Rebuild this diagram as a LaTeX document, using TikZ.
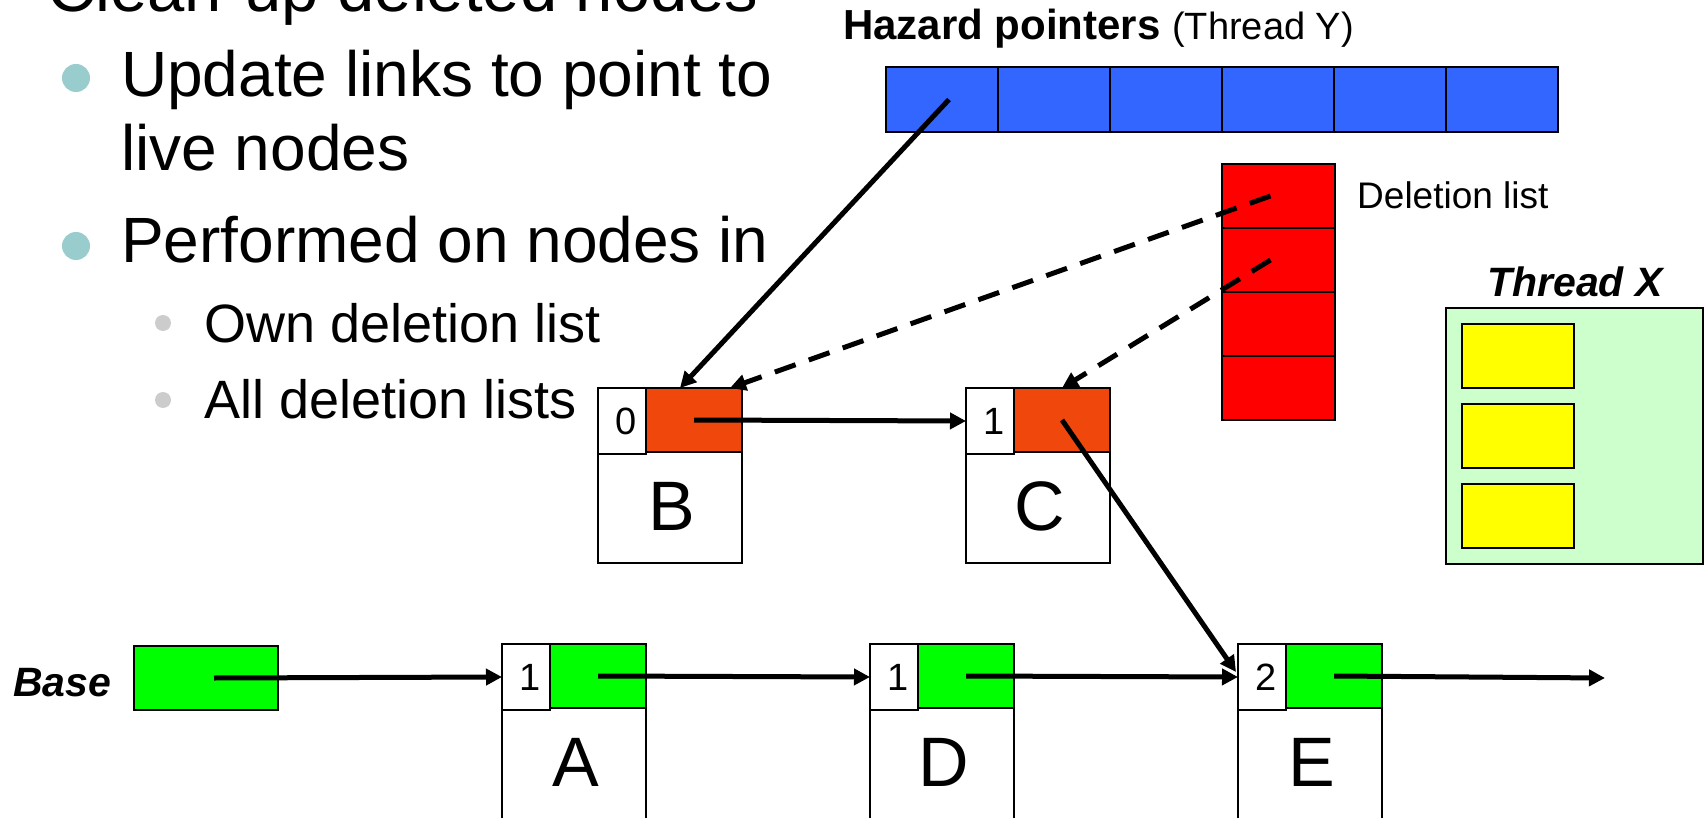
\documentclass[tikz,border=0pt]{standalone}
\usepackage{fontspec}
\setmainfont{Liberation Sans}
\usetikzlibrary{arrows.meta,calc}
\definecolor{tealdot}{RGB}{153,204,204}
\definecolor{greydot}{RGB}{204,204,204}
\definecolor{orng}{RGB}{240,72,12}
\definecolor{hzblue}{RGB}{51,102,255}
\definecolor{lgreen}{RGB}{204,255,204}
\definecolor{brgreen}{RGB}{0,255,0}
\definecolor{ylw}{RGB}{255,255,0}
\definecolor{dred}{RGB}{255,0,0}
\begin{document}
\begin{tikzpicture}[x=1pt,y=-1pt,
  cell/.style={draw=black, line width=2.2pt, inner sep=0pt, outer sep=0pt, anchor=north west},
  body/.style={cell, fill=white, minimum width=144pt, minimum height=175pt},
  cnt/.style={cell, fill=white, minimum width=48pt, minimum height=66pt, font=\fontsize{38}{44}\selectfont},
  ptr/.style={cell, minimum width=96pt, minimum height=64pt},
  letter/.style={anchor=base, inner sep=0pt, font=\fontsize{70}{84}\selectfont},
  txt/.style={anchor=base west, inner sep=0pt},
  link/.style={line width=5pt, -{Triangle[length=16pt,width=16pt]}},
  dlink/.style={link, dash pattern=on 22pt off 14pt},
  hcell/.style={cell, fill=hzblue, minimum width=112pt, minimum height=65pt},
  dcell/.style={cell, fill=dred, minimum width=113pt, minimum height=64pt},
  ycell/.style={cell, fill=ylw, minimum width=112pt, minimum height=64pt},
  bigdot/.style={circle, fill=tealdot, minimum size=28pt, inner sep=0pt},
  smalldot/.style={circle, fill=greydot, minimum size=16pt, inner sep=0pt}
]
\useasboundingbox (0,0) rectangle (1705,818);

% title and bullets
\node[txt, font=\fontsize{67}{80}\selectfont] (title) at (47,12) {Clean-up deleted nodes};
\node[bigdot] (d1) at (76,78) {};
\node[txt, font=\fontsize{64}{75}\selectfont] (t1a) at (121,97) {Update links to point to};
\node[txt, font=\fontsize{64}{75}\selectfont] (t1b) at (121,171) {live nodes};
\node[bigdot] (d2) at (76,246) {};
\node[txt, font=\fontsize{64}{75}\selectfont] (t2) at (121,263) {Performed on nodes in};
\node[smalldot] (s1) at (163,323) {};
\node[txt, font=\fontsize{54}{64}\selectfont] (t3) at (204,342) {Own deletion list};
\node[smalldot] (s2) at (163,400) {};
\node[txt, font=\fontsize{54}{64}\selectfont] (t4) at (204,418) {All deletion lists};

% hazard pointers
\node[txt, font=\fontsize{42}{50}\selectfont] (hzlab) at (843,40) {\textbf{Hazard pointers} {\fontsize{38}{46}\selectfont(Thread Y)}};
\node[hcell] (hz1) at (886,67) {};
\node[hcell] (hz2) at (998,67) {};
\node[hcell] (hz3) at (1110,67) {};
\node[hcell] (hz4) at (1222,67) {};
\node[hcell] (hz5) at (1334,67) {};
\node[hcell] (hz6) at (1446,67) {};

% deletion list
\node[dcell] (del1) at (1222,164) {};
\node[dcell] (del2) at (1222,228) {};
\node[dcell] (del3) at (1222,292) {};
\node[dcell] (del4) at (1222,356) {};
\node[txt, font=\fontsize{37}{44}\selectfont] (dellab) at (1357,209) {Deletion list};

% thread X
\node[anchor=base, inner sep=0pt, font=\fontsize{41}{49}\selectfont\bfseries\itshape] (txlab) at (1575,297) {Thread X};
\node[cell, fill=lgreen, minimum width=257pt, minimum height=256pt] (tx) at (1446,308) {};
\node[ycell] (y1) at (1462,324) {};
\node[ycell] (y2) at (1462,404) {};
\node[ycell] (y3) at (1462,484) {};

% node B
\node[body] (Bbody) at (598,388) {};
\node[cnt] (Bcnt) at (598,388) {\hspace*{8pt}0};
\node[ptr, fill=orng] (Bptr) at (646,388) {};
\node[letter] (Blab) at (672,530) {B};

% node C
\node[body] (Cbody) at (966,388) {};
\node[cnt] (Ccnt) at (966,388) {\hspace*{8pt}1};
\node[ptr, fill=orng] (Cptr) at (1014,388) {};
\node[letter] (Clab) at (1040,530) {C};

% base
\node[txt, font=\fontsize{41}{49}\selectfont\bfseries\itshape] (baselab) at (13,696) {Base};
\node[cell, fill=brgreen, minimum width=144pt, minimum height=64pt] (base) at (134,646) {};

% node A
\node[body] (Abody) at (502,644) {};
\node[cnt] (Acnt) at (502,644) {\hspace*{8pt}1};
\node[ptr, fill=brgreen] (Aptr) at (550,644) {};
\node[letter] (Alab) at (576,786) {A};

% node D
\node[body] (Dbody) at (870,644) {};
\node[cnt] (Dcnt) at (870,644) {\hspace*{8pt}1};
\node[ptr, fill=brgreen] (Dptr) at (918,644) {};
\node[letter] (Dlab) at (944,786) {D};

% node E
\node[body] (Ebody) at (1238,644) {};
\node[cnt] (Ecnt) at (1238,644) {\hspace*{8pt}2};
\node[ptr, fill=brgreen] (Eptr) at (1286,644) {};
\node[letter] (Elab) at (1312,786) {E};

% connector endpoints
\coordinate (hzB) at ($(Bptr.north west)+(34,0)$);
\coordinate (delB) at ($(Bptr.north east)+(-12,0)$);
\coordinate (cE) at ($(Ecnt.north west)+(-2,28)$);
\coordinate (endE) at (1605,678);

% connectors
\draw[link] ($(hz1.center)+(7,0)$) -- (hzB);
\draw[dlink] ($(del1.center)+(-8,0)$) -- (delB);
\draw[dlink] ($(del2.center)+(-8,0)$) -- (Cptr.north);
\draw[link] (Bptr.center) -- (Ccnt.west);
\draw[link] (Cptr.center) -- (cE);
\draw[link] ($(base.center)+(8,0)$) -- (Acnt.west);
\draw[link] (Aptr.center) -- (Dcnt.west);
\draw[link] (Dptr.center) -- (Ecnt.west);
\draw[link] (Eptr.center) -- (endE);
\end{tikzpicture}
\end{document}
